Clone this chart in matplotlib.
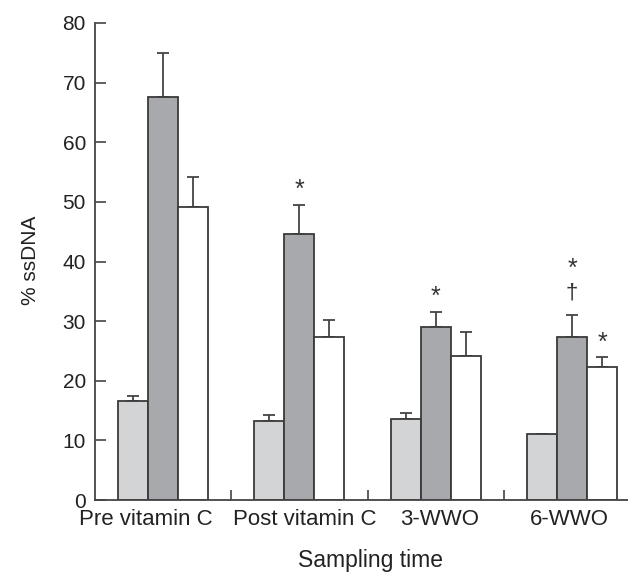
import matplotlib
matplotlib.use("Agg")
import matplotlib.pyplot as plt
import numpy as np

plt.rcParams['font.family'] = ['Liberation Sans', 'DejaVu Sans']

categories = ["Pre vitamin C", "Post vitamin C", "3-WWO", "6-WWO"]
series_a = [16.6, 13.2, 13.6, 11.1]   # light grey
err_a = [0.9, 1.0, 1.0, 0.0]
series_b = [67.6, 44.6, 29.0, 27.4]   # dark grey
err_b = [7.3, 4.9, 2.6, 3.6]
series_c = [49.2, 27.4, 24.2, 22.3]   # white
err_c = [5.0, 2.8, 3.9, 1.6]
yticks = [0, 10, 20, 30, 40, 50, 60, 70, 80]

# significance marks, stacked upward from the error bar top
marks_b = [[], ["*"], ["*"], ["†", "*"]]
marks_c = [[], [], [], ["*"]]

fig = plt.figure(figsize=(6.28, 5.73), dpi=100)
ax = fig.add_axes([95/628, 73/573, 1 - 95/628, (500-23)/573])

x = np.arange(len(categories))
w = 0.22
edge = '#3a3a3a'
colors = ['#d3d4d6', '#a8a9ac', '#ffffff']
for k, (vals, errs) in enumerate([(series_a, err_a), (series_b, err_b), (series_c, err_c)]):
    pos = x + (k - 1) * w
    ax.bar(pos, vals, width=w, color=colors[k], edgecolor=edge, linewidth=1.3, zorder=2)
    e = np.array(errs)
    ax.errorbar(pos, vals, yerr=[np.zeros_like(e), e], fmt='none', ecolor='#444444',
                elinewidth=1.3, capsize=4.5, capthick=1.3, zorder=1)

def put_marks(xc, top, marks):
    y = top + 3.7
    for m in marks:
        if m == "*":
            ax.text(xc, y - 1.2, m, ha='center', va='center', fontsize=18, color='#333333')
        else:
            ax.text(xc, y, m, ha='center', va='center', fontsize=16, color='#333333')
        y += 5.2

for i in range(len(categories)):
    put_marks(x[i], series_b[i] + err_b[i], marks_b[i])
    put_marks(x[i] + w, series_c[i] + err_c[i], marks_c[i])

ax.set_xlim(-0.5, 3.41)
ax.set_ylim(0, 80)
ax.set_yticks(yticks)
ax.set_yticklabels([str(t) for t in yticks], fontsize=15, color='#222222')
ax.tick_params(axis='y', direction='in', length=8, width=1.2, color='#444444', pad=6.5)

# x: minor ticks between groups, inward; labels placed as text
ax.set_xticks([])
ax.set_xticks([0.5, 1.5, 2.5], minor=True)
ax.tick_params(axis='x', which='minor', direction='in', length=7, width=1.2, color='#444444')
label_shift = [-0.13, 0.04, 0.03, -0.02]
for i, c in enumerate(categories):
    ax.text(x[i] + label_shift[i], -1.5, c, ha='center', va='top', fontsize=16,
            color='#222222', transform=ax.transData)

for s in ['top', 'right']:
    ax.spines[s].set_visible(False)
for s in ['left', 'bottom']:
    ax.spines[s].set_color('#444444')
    ax.spines[s].set_linewidth(1.3)

fig.text(371/628, 1 - 561/573, "Sampling time", ha='center', va='center', fontsize=16.5, color='#222222')
fig.text(30/628, 1 - 260/573, "% ssDNA", ha='center', va='center', rotation=90, fontsize=15, color='#222222')

fig.savefig("out.png", dpi=100)
